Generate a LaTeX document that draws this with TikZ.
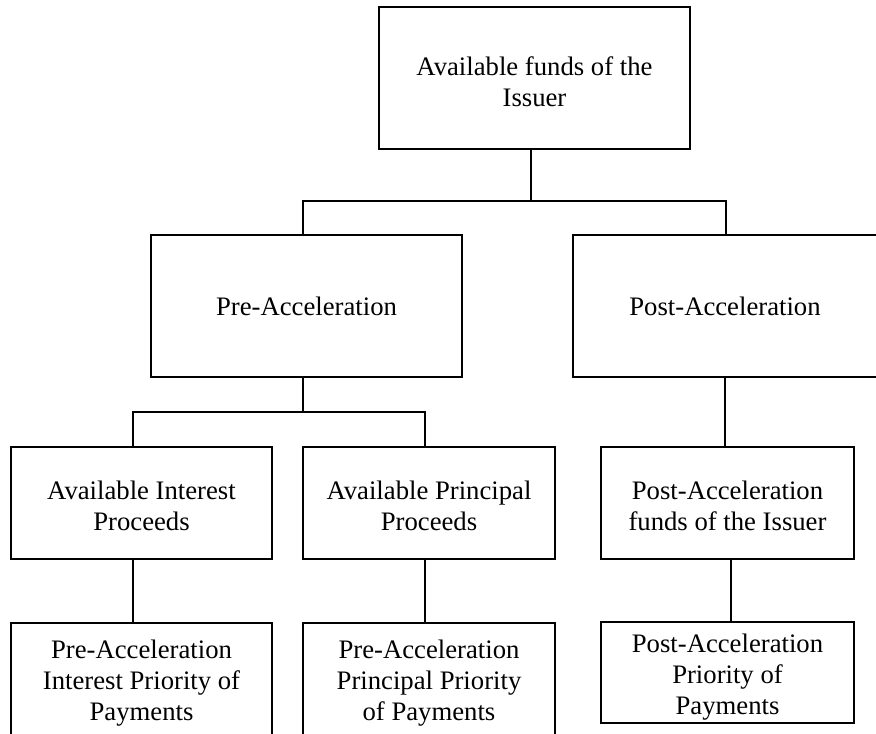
\documentclass[tikz,border=0pt]{standalone}
\usepackage{fontspec}
\setmainfont{Liberation Serif}
\begin{document}
\begin{tikzpicture}[x=1pt,y=-1pt,
  box/.style={draw=black,line width=1.4pt,rectangle,inner sep=0pt},
  txt/.style={align=center,inner sep=0pt,font=\fontsize{26.7}{31}\selectfont},
  conn/.style={draw=black,line width=1.4pt}]
\fill[white] (0,0) rectangle (876,734);
\useasboundingbox (0,0) rectangle (876,734);
% boxes
\node[box,minimum width=311pt,minimum height=142pt] (top) at (534.5,78) {};
\node[box,minimum width=311pt,minimum height=142pt] (pre) at (306.5,306) {};
\node[box,minimum width=304pt,minimum height=142pt] (post) at (725,306) {};
\node[box,minimum width=261pt,minimum height=112pt] (aip) at (141.5,503) {};
\node[box,minimum width=252pt,minimum height=112pt] (app) at (429,503) {};
\node[box,minimum width=253pt,minimum height=112pt] (paf) at (727.5,503) {};
\node[box,minimum width=261pt,minimum height=120pt] (pip) at (141.5,683) {};
\node[box,minimum width=252pt,minimum height=120pt] (ppp) at (429,683) {};
\node[box,minimum width=253pt,minimum height=101pt] (ppost) at (727.5,672.5) {};
% texts
\node[txt] (topt) at ([yshift=-4pt]top.center) {Available funds of the\\Issuer};
\node[txt] (pret) at (pre.center) {Pre-Acceleration};
\node[txt] (postt) at (post.center) {Post-Acceleration};
\node[txt] (aipt) at ([yshift=-3pt]aip.center) {Available Interest\\Proceeds};
\node[txt] (appt) at ([yshift=-3pt]app.center) {Available Principal\\Proceeds};
\node[txt] (paft) at ([yshift=-3pt]paf.center) {Post-Acceleration\\funds of the Issuer};
\node[txt] (pipt) at (pip.center) {Pre-Acceleration\\Interest Priority of\\Payments};
\node[txt] (pppt) at (ppp.center) {Pre-Acceleration\\Principal Priority\\of Payments};
\node[txt] (ppostt) at ([yshift=-4.5pt]ppost.center) {Post-Acceleration\\Priority of\\Payments};
% junctions
\coordinate (j1) at (531,201);
\coordinate (j2) at (303,412);
% connectors
\draw[conn] (top.south -| j1) -- (j1);
\draw[conn] ([xshift=-3.5pt]pre.north) |- (j1) -| ([xshift=1pt]post.north);
\draw[conn] ([xshift=-3.5pt]pre.south) -- (j2);
\draw[conn] ([xshift=-8.5pt]aip.north) |- (j2) -| ([xshift=-4pt]app.north);
\draw[conn] (post.south) -- ([xshift=-2.5pt]paf.north);
\draw[conn] ([xshift=-8.5pt]aip.south) -- ([xshift=-8.5pt]pip.north);
\draw[conn] ([xshift=-4pt]app.south) -- ([xshift=-4pt]ppp.north);
\draw[conn] ([xshift=3.5pt]paf.south) -- ([xshift=3.5pt]ppost.north);
\end{tikzpicture}
\end{document}
